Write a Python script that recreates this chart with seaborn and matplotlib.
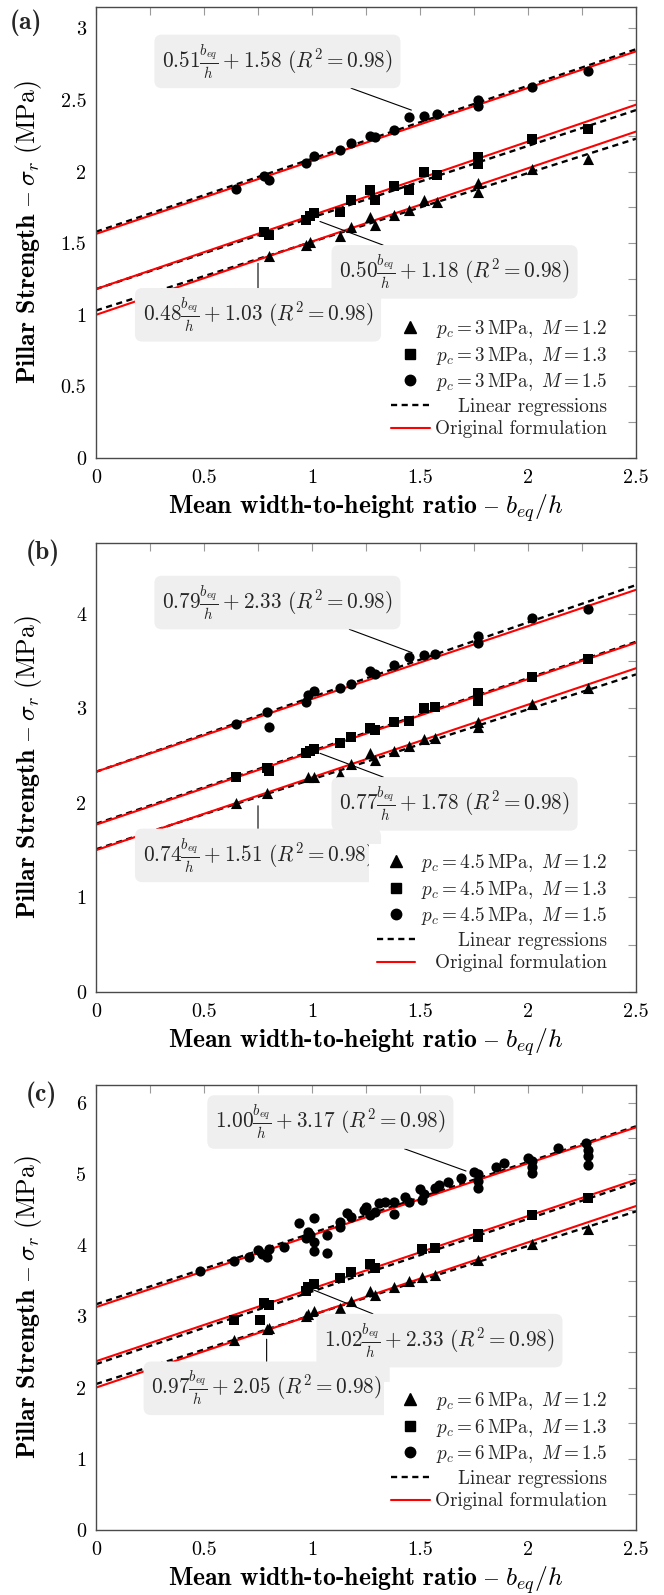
import numpy as np
import pandas as pd
import matplotlib
matplotlib.use("Agg")
import matplotlib.pyplot as plt
import seaborn as sns
from matplotlib.lines import Line2D
from matplotlib.ticker import MultipleLocator, FuncFormatter

sns.set_theme(style="white")
plt.rcParams["font.family"] = ["cmr10"]
plt.rcParams["mathtext.fontset"] = "cm"
plt.rcParams["axes.unicode_minus"] = False

# ---------------- data ----------------
panel_tags = ["(a)", "(b)", "(c)"]
pc_values = ["3", "4.5", "6"]
M_values = ["1.2", "1.3", "1.5"]

# panel (a)  p_c = 3 MPa
a_x_M12 = [0.80, 0.97, 0.99, 1.13, 1.18, 1.27, 1.29, 1.38, 1.45, 1.52, 1.58, 1.77, 1.77, 2.02, 2.28]
a_y_M12 = [1.41, 1.49, 1.51, 1.55, 1.61, 1.68, 1.63, 1.70, 1.73, 1.80, 1.79, 1.92, 1.86, 2.02, 2.09]
a_x_M13 = [0.78, 0.80, 0.97, 0.99, 1.01, 1.13, 1.18, 1.27, 1.29, 1.38, 1.45, 1.52, 1.58, 1.77, 1.77, 2.02, 2.28]
a_y_M13 = [1.58, 1.56, 1.66, 1.69, 1.71, 1.72, 1.80, 1.87, 1.80, 1.90, 1.87, 2.00, 1.98, 2.10, 2.05, 2.23, 2.30]
a_x_M15 = [0.65, 0.78, 0.80, 0.97, 1.01, 1.13, 1.18, 1.27, 1.29, 1.38, 1.45, 1.52, 1.58, 1.77, 1.77, 2.02, 2.28]
a_y_M15 = [1.88, 1.97, 1.94, 2.06, 2.11, 2.15, 2.20, 2.25, 2.24, 2.29, 2.38, 2.39, 2.40, 2.50, 2.46, 2.59, 2.70]
a_reg_slope = [0.48, 0.50, 0.51]
a_reg_icpt = [1.03, 1.18, 1.58]
a_orig_slope = [0.512, 0.515, 0.51]
a_orig_icpt = [1.00, 1.18, 1.565]

# panel (b)  p_c = 4.5 MPa
b_x_M12 = [0.65, 0.79, 0.98, 1.01, 1.13, 1.18, 1.27, 1.29, 1.38, 1.45, 1.52, 1.57, 1.77, 1.77, 2.02, 2.28]
b_y_M12 = [2.00, 2.11, 2.27, 2.27, 2.31, 2.41, 2.53, 2.45, 2.55, 2.60, 2.68, 2.69, 2.86, 2.80, 3.05, 3.22]
b_x_M13 = [0.65, 0.79, 0.80, 0.97, 0.99, 1.01, 1.13, 1.18, 1.27, 1.29, 1.38, 1.45, 1.52, 1.57, 1.77, 1.77, 2.02, 2.28]
b_y_M13 = [2.27, 2.37, 2.34, 2.53, 2.55, 2.57, 2.63, 2.70, 2.79, 2.77, 2.86, 2.87, 3.00, 3.01, 3.16, 3.08, 3.33, 3.52]
b_x_M15 = [0.65, 0.79, 0.80, 0.97, 0.98, 1.01, 1.13, 1.18, 1.27, 1.29, 1.38, 1.45, 1.52, 1.57, 1.77, 1.77, 2.02, 2.28]
b_y_M15 = [2.83, 2.96, 2.80, 3.07, 3.14, 3.18, 3.22, 3.26, 3.40, 3.36, 3.46, 3.54, 3.56, 3.58, 3.77, 3.69, 3.96, 4.05]
b_reg_slope = [0.74, 0.77, 0.79]
b_reg_icpt = [1.51, 1.78, 2.33]
b_orig_slope = [0.77, 0.77, 0.77]
b_orig_icpt = [1.50, 1.77, 2.33]

# panel (c)  p_c = 6 MPa
c_x_M12 = [0.64, 0.79, 0.80, 0.97, 0.98, 1.01, 1.13, 1.18, 1.27, 1.29, 1.38, 1.45, 1.51, 1.57, 1.77, 2.02, 2.28]
c_y_M12 = [2.67, 2.82, 2.84, 3.00, 3.03, 3.07, 3.12, 3.21, 3.35, 3.30, 3.41, 3.50, 3.56, 3.58, 3.79, 4.01, 4.23]
c_x_M13 = [0.64, 0.76, 0.78, 0.80, 0.97, 0.98, 1.01, 1.13, 1.18, 1.27, 1.29, 1.51, 1.57, 1.77, 1.77, 2.02, 2.28]
c_y_M13 = [2.95, 2.95, 3.19, 3.16, 3.35, 3.41, 3.46, 3.54, 3.62, 3.73, 3.68, 3.95, 3.96, 4.16, 4.12, 4.42, 4.66]
c_x_M15 = [0.48, 0.64, 0.71, 0.75, 0.77, 0.79, 0.80, 0.87, 0.94, 0.97, 0.98, 0.99, 1.01, 1.01, 1.01,
           1.07, 1.07, 1.13, 1.13, 1.16, 1.18, 1.24, 1.25, 1.27, 1.29, 1.31, 1.34, 1.38, 1.38, 1.43,
           1.45, 1.50, 1.51, 1.52, 1.57, 1.59, 1.63, 1.69, 1.75, 1.77, 1.77, 1.77, 1.85, 1.89, 2.00,
           2.02, 2.02, 2.02, 2.14, 2.27, 2.28, 2.28, 2.28]
c_y_M15 = [3.64, 3.78, 3.83, 3.93, 3.88, 3.83, 3.95, 3.98, 4.31, 4.10, 4.19, 4.14, 4.05, 3.92, 4.38,
           3.89, 4.14, 4.26, 4.32, 4.45, 4.39, 4.49, 4.53, 4.42, 4.46, 4.59, 4.60, 4.61, 4.44, 4.67,
           4.60, 4.79, 4.63, 4.72, 4.80, 4.84, 4.89, 4.94, 5.03, 5.00, 4.90, 4.81, 5.10, 5.16, 5.22,
           5.18, 5.10, 5.01, 5.36, 5.43, 5.34, 5.25, 5.12]
c_reg_slope = [0.97, 1.02, 1.00]
c_reg_icpt = [2.05, 2.33, 3.17]
c_orig_slope = [1.02, 1.02, 1.01]
c_orig_icpt = [2.00, 2.37, 3.13]

r2_value = "0.98"
x_ticks_major = 0.5
y_limits = [3.15, 4.75, 6.25]
y_major = [0.5, 1.0, 1.0]
y_minor = [0.25, 0.5, 0.5]

panels = [
    dict(x=[a_x_M12, a_x_M13, a_x_M15], y=[a_y_M12, a_y_M13, a_y_M15],
         rs=a_reg_slope, ri=a_reg_icpt, os=a_orig_slope, oi=a_orig_icpt),
    dict(x=[b_x_M12, b_x_M13, b_x_M15], y=[b_y_M12, b_y_M13, b_y_M15],
         rs=b_reg_slope, ri=b_reg_icpt, os=b_orig_slope, oi=b_orig_icpt),
    dict(x=[c_x_M12, c_x_M13, c_x_M15], y=[c_y_M12, c_y_M13, c_y_M15],
         rs=c_reg_slope, ri=c_reg_icpt, os=c_orig_slope, oi=c_orig_icpt),
]

# ---------------- layout / style ----------------
W, H = 664, 1595
fig = plt.figure(figsize=(W / 100, H / 100), dpi=100)
left_px, right_px = 96, 636
axes_tb = [(7, 458), (543, 992), (1085, 1530)]
tag_pos = [(10, 9), (26, 540), (26, 1082)]
markers = {"1.2": "^", "1.3": "s", "1.5": "o"}
msize = {"1.2": 64, "1.3": 52, "1.5": 54}
spine_col = "#4a4a4a"
tick_col = "#9a9a9a"
FS_TICK = 14.5
FS_LAB = 18.5
FS_ANN = 15.3
FS_LEG = 13.8
FS_TAG = 18.5

# annotation layout: (text centre, target) for lines M=1.2, 1.3, 1.5
ann_layout = [
    [((0.75, 1.00), (0.75, 1.36)), ((1.66, 1.30), (1.037, 1.652)), ((0.84, 2.77), (1.46, 2.43))],
    [((0.75, 1.445), (0.75, 1.97)), ((1.66, 1.99), (1.037, 2.525)), ((0.84, 4.12), (1.463, 3.59))],
    [((0.79, 1.99), (0.79, 2.68)), ((1.59, 2.66), (1.00, 3.38)), ((1.085, 5.73), (1.713, 5.042))],
]

all_legends = []
for i, p in enumerate(panels):
    top, bot = axes_tb[i]
    aw, ah = right_px - left_px, bot - top
    ax = fig.add_axes([left_px / W, 1 - bot / H, aw / W, ah / H])
    ax.set_facecolor("white")

    xs = np.array([0.0, 2.5])
    for j in range(3):
        df_reg = pd.DataFrame({"x": xs, "y": p["rs"][j] * xs + p["ri"][j]})
        sns.lineplot(data=df_reg, x="x", y="y", ax=ax, color="black", lw=1.7,
                     linestyle=(0, (2.6, 1.9)), zorder=2)
        df_org = pd.DataFrame({"x": xs, "y": p["os"][j] * xs + p["oi"][j]})
        sns.lineplot(data=df_org, x="x", y="y", ax=ax, color="red", lw=1.5, zorder=2.5)

    frames = []
    for j, m in enumerate(M_values):
        frames.append(pd.DataFrame({"x": p["x"][j], "y": p["y"][j], "M": m}))
    df = pd.concat(frames, ignore_index=True)
    for m in M_values:
        sns.scatterplot(data=df[df["M"] == m], x="x", y="y", marker=markers[m], s=msize[m],
                        color="black", linewidth=0, ax=ax, zorder=3, legend=False)

    # annotations
    for j in range(3):
        (cx, cy), (tx, ty) = ann_layout[i][j]
        txt = (r"$%.2f\frac{b_{eq}}{h} + %.2f\ (R^2 = %s)$"
               % (p["rs"][j], p["ri"][j], r2_value))
        ax.annotate(txt, xy=(tx, ty), xytext=(cx, cy), ha="center", va="center",
                    fontsize=FS_ANN, zorder=4,
                    bbox=dict(boxstyle="round,pad=0.36,rounding_size=0.35", fc="#efefef", ec="none"),
                    arrowprops=dict(arrowstyle="-", color="black", lw=0.8, shrinkA=0, shrinkB=0))

    ax.set_xlim(0, 2.5)
    ax.set_ylim(0, y_limits[i])
    ax.xaxis.set_major_locator(MultipleLocator(x_ticks_major))
    ax.xaxis.set_minor_locator(MultipleLocator(0.25))
    ax.yaxis.set_major_locator(MultipleLocator(y_major[i]))
    ax.yaxis.set_minor_locator(MultipleLocator(y_minor[i]))
    fmt = FuncFormatter(lambda v, pos: f"{v:g}")
    ax.xaxis.set_major_formatter(fmt)
    ax.yaxis.set_major_formatter(fmt)
    ax.tick_params(which="both", direction="in", top=True, right=True, length=6,
                   width=0.8, color=tick_col, labelsize=FS_TICK, labelcolor="black")
    ax.tick_params(axis="x", which="major", pad=8)
    ax.tick_params(axis="y", which="major", pad=7)
    for t in ax.get_xticklabels() + ax.get_yticklabels():
        t.set_fontfamily("cmr10")
    for s in ax.spines.values():
        s.set_color(spine_col)
        s.set_linewidth(1.0)

    ax.set_xlabel(r"Mean width-to-height ratio $\mathrm{–}\ b_{eq}/h$", fontfamily="cmb10",
                  fontsize=FS_LAB, color="black", va="top")
    ax.xaxis.set_label_coords(0.5, -34 / ah)
    ax.set_ylabel(r"Pillar Strength $\mathrm{–}\ \sigma_r\ \mathrm{(MPa)}$", fontfamily="cmb10",
                  fontsize=FS_LAB, color="black")
    ax.yaxis.set_label_coords(-52 / aw, 0.5)

    handles = [Line2D([], [], marker=markers[m], color="black", linestyle="none",
                      markersize=7.5 if m != "1.2" else 8) for m in M_values]
    handles += [Line2D([], [], color="black", lw=1.7, linestyle=(0, (2.6, 1.9))),
                Line2D([], [], color="red", lw=1.5)]
    labels = [r"$p_c = %s\,\mathrm{MPa},\ M = %s$" % (pc_values[i], m) for m in M_values]
    labels += ["Linear regressions", "Original formulation"]
    leg = ax.legend(handles, labels, loc="lower right",
                    bbox_to_anchor=(1 - 21 / aw, 12 / ah),
                    frameon=True, fancybox=False,
                    facecolor="white", edgecolor="none", framealpha=1.0,
                    prop={"family": "cmr10", "size": FS_LEG}, handlelength=2.0,
                    handletextpad=0.3, labelspacing=0.24, borderpad=0.4, borderaxespad=0.0)
    leg.set_zorder(6)
    all_legends.append(leg)

    fig.text(tag_pos[i][0] / W, 1 - tag_pos[i][1] / H, panel_tags[i], fontfamily="cmb10",
             fontsize=FS_TAG, ha="left", va="top")

# right-align legend texts
fig.canvas.draw()
renderer = fig.canvas.get_renderer()
for leg in all_legends:
    texts = leg.get_texts()
    ws = [t.get_window_extent(renderer).width for t in texts]
    mw = max(ws)
    for t, w in zip(texts, ws):
        t.set_position((mw - w, 0))

fig.savefig("out.png", dpi=100)
